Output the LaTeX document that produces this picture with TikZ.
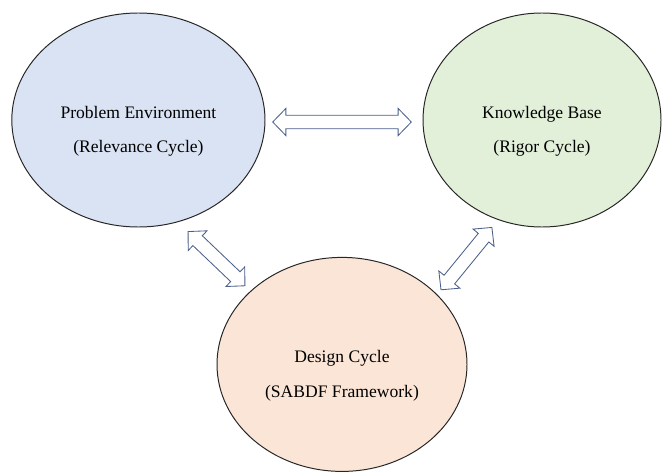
\documentclass[tikz,border=0pt]{standalone}
\usepackage{fontspec}
\setmainfont{Liberation Serif}
\usetikzlibrary{calc,shapes.geometric}

\definecolor{probfill}{HTML}{DAE3F3}
\definecolor{knowfill}{HTML}{E2F0D9}
\definecolor{desfill}{HTML}{FBE5D6}
\definecolor{arrowcol}{HTML}{4A5F8A}

\newcommand{\cycarrow}[2]{%
\coordinate (ha) at ($(#1)!0.33cm!(#2)$);
\coordinate (hb) at ($(#2)!0.33cm!(#1)$);
\draw[cycarr] (#1) -- ($(ha)!0.34cm!90:(#2)$) -- ($(ha)!0.17cm!90:(#2)$)
  -- ($(hb)!0.17cm!-90:(#1)$) -- ($(hb)!0.34cm!-90:(#1)$) -- (#2)
  -- ($(hb)!0.34cm!90:(#1)$) -- ($(hb)!0.17cm!90:(#1)$)
  -- ($(ha)!0.17cm!-90:(#2)$) -- ($(ha)!0.34cm!-90:(#2)$) -- cycle;}

\begin{document}
\begin{tikzpicture}[
  cyc/.style={ellipse, draw=black!85, line width=0.7pt, inner sep=0pt, minimum height=5.35cm},
  cyctext/.style={align=center, font=\fontsize{12.5}{24.5}\selectfont, yshift=-0.28cm},
  cycarr/.style={draw=arrowcol, fill=white, line width=0.6pt, line join=miter}]
\useasboundingbox (0,0) rectangle (16.55,11.8);

\node[cyc, fill=probfill, minimum width=6.33cm] (prob) at (3.46,8.8) {};
\node[cyc, fill=knowfill, minimum width=5.95cm] (know) at (13.55,8.8) {};
\node[cyc, fill=desfill, minimum width=6.25cm] (des) at (8.55,2.69) {};

\node[cyctext] (probtxt) at (prob.center) {Problem Environment\\(Relevance Cycle)};
\node[cyctext] (knowtxt) at (know.center) {Knowledge Base\\(Rigor Cycle)};
\node[cyctext] (destxt) at (des.center) {Design Cycle\\(SABDF Framework)};

\coordinate (pk1) at ([xshift=0.18cm,yshift=-0.05cm]prob.east);
\coordinate (pk2) at ([xshift=-0.28cm,yshift=-0.05cm]know.west);
\coordinate (pd1) at ([shift={(-66:0.3)}]prob.-66);
\coordinate (pd2) at ([shift={(141:0.19)}]des.141);
\coordinate (kd1) at ([shift={(-115:0.23)}]know.-115);
\coordinate (kd2) at ([shift={(37:0.15)}]des.37);

\cycarrow{pk1}{pk2}
\cycarrow{pd1}{pd2}
\cycarrow{kd1}{kd2}
\end{tikzpicture}
\end{document}
